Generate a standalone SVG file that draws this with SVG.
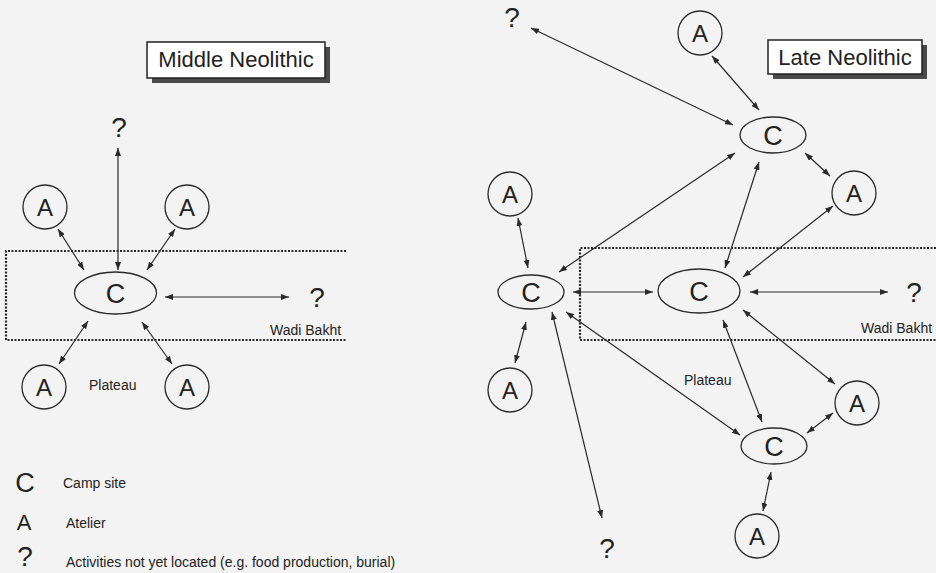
<svg xmlns="http://www.w3.org/2000/svg" width="936" height="573" viewBox="0 0 936 573">
<defs>
<marker id="ah" viewBox="0 0 8 6" refX="8" refY="3" markerWidth="8" markerHeight="6" markerUnits="userSpaceOnUse" orient="auto-start-reverse">
<path d="M0,0 L8,3 L0,6 z" fill="#2a2a2a"/>
</marker>
</defs>
<style>
.bg{fill:#f3f3f3}
.n{fill:none;stroke:#2a2a2a;stroke-width:1.3}
.l{font-family:"Liberation Sans",Arial,sans-serif;fill:#222;text-anchor:middle}
.big{font-size:27px}
.a{font-size:24px}
.q{font-size:28px}
.sm{font-family:"Liberation Sans",Arial,sans-serif;fill:#222;font-size:14px}
.title{font-family:"Liberation Sans",Arial,sans-serif;fill:#222;font-size:22px;text-anchor:middle}
.box{fill:#fff;stroke:#222;stroke-width:1.5}
.sh{fill:#4a4a4a}
.dot{fill:none;stroke:#2a2a2a;stroke-width:2.2;stroke-dasharray:2 1.5}
.c line{stroke:#2a2a2a;stroke-width:1.2;marker-start:url(#ah);marker-end:url(#ah)}
</style>
<rect class="bg" x="0" y="0" width="936" height="573"/>

<!-- regions -->
<g id="regions">
<path class="dot" d="M346,251 H6 V340 H346"/>
<path class="dot" d="M936,248 H580 V340 H936"/>
<text class="sm" x="270" y="335">Wadi Bakht</text>
<text class="sm" x="89" y="390">Plateau</text>
<text class="sm" x="861" y="333">Wadi Bakht</text>
<text class="sm" x="684" y="385">Plateau</text>
</g>

<!-- titles -->
<g id="title-middle">
<rect class="sh" x="152" y="47" width="178" height="36"/>
<rect class="box" x="147" y="42" width="178" height="36"/>
<text class="title" x="236" y="67">Middle Neolithic</text>
</g>
<g id="title-late">
<rect class="sh" x="773" y="45" width="154" height="34"/>
<rect class="box" x="768" y="40" width="154" height="34"/>
<text class="title" x="845" y="65">Late Neolithic</text>
</g>

<!-- connectors -->
<g id="connectors" class="c">
<line x1="58" y1="229" x2="84" y2="270"/>
<line x1="118" y1="148" x2="118" y2="270"/>
<line x1="175" y1="229" x2="147" y2="270"/>
<line x1="165" y1="297" x2="289" y2="297"/>
<line x1="88" y1="321" x2="59" y2="364"/>
<line x1="142" y1="322" x2="172" y2="364"/>

<line x1="531" y1="28" x2="733" y2="125"/>
<line x1="712" y1="56" x2="759" y2="110"/>
<line x1="805" y1="153" x2="830" y2="176"/>
<line x1="735" y1="153" x2="559" y2="272"/>
<line x1="759" y1="162" x2="725" y2="268"/>
<line x1="833" y1="206" x2="743" y2="277"/>
<line x1="518" y1="218" x2="528" y2="268"/>
<line x1="573" y1="292" x2="653" y2="292"/>
<line x1="750" y1="292" x2="888" y2="292"/>
<line x1="526" y1="322" x2="515" y2="363"/>
<line x1="552" y1="312" x2="602" y2="518"/>
<line x1="566" y1="312" x2="740" y2="435"/>
<line x1="723" y1="320" x2="762" y2="422"/>
<line x1="743" y1="310" x2="835" y2="384"/>
<line x1="807" y1="433" x2="833" y2="413"/>
<line x1="771" y1="472" x2="763" y2="511"/>
</g>

<!-- Middle Neolithic nodes -->
<g id="mn-q-top"><text class="l q" x="119" y="137">?</text></g>
<g id="mn-a1"><circle class="n" cx="45" cy="207" r="22"/><text class="l a" x="45" y="216">A</text></g>
<g id="mn-a2"><circle class="n" cx="187" cy="207" r="22"/><text class="l a" x="187" y="216">A</text></g>
<g id="mn-c"><ellipse class="n" cx="115.5" cy="293" rx="41" ry="21"/><text class="l big" x="115.5" y="303">C</text></g>
<g id="mn-q-right"><text class="l q" x="317" y="307">?</text></g>
<g id="mn-a3"><circle class="n" cx="44" cy="387" r="22"/><text class="l a" x="44" y="396">A</text></g>
<g id="mn-a4"><circle class="n" cx="187" cy="387" r="22"/><text class="l a" x="187" y="396">A</text></g>

<!-- Late Neolithic nodes -->
<g id="ln-q-top"><text class="l q" x="512" y="27">?</text></g>
<g id="ln-a-top"><circle class="n" cx="700" cy="33" r="22"/><text class="l a" x="700" y="42">A</text></g>
<g id="ln-c-top"><ellipse class="n" cx="773" cy="135" rx="33" ry="18"/><text class="l big" x="773" y="145">C</text></g>
<g id="ln-a-right1"><circle class="n" cx="854" cy="193" r="22"/><text class="l a" x="854" y="202">A</text></g>
<g id="ln-a-left1"><circle class="n" cx="510" cy="194" r="22"/><text class="l a" x="510" y="203">A</text></g>
<g id="ln-c-left"><ellipse class="n" cx="531" cy="292" rx="33" ry="17"/><text class="l big" x="531" y="302">C</text></g>
<g id="ln-c-mid"><ellipse class="n" cx="699" cy="291" rx="41" ry="22"/><text class="l big" x="699" y="301">C</text></g>
<g id="ln-q-right"><text class="l q" x="914" y="302">?</text></g>
<g id="ln-a-left2"><circle class="n" cx="510" cy="390" r="22"/><text class="l a" x="510" y="399">A</text></g>
<g id="ln-a-right2"><circle class="n" cx="857" cy="403" r="22"/><text class="l a" x="857" y="412">A</text></g>
<g id="ln-c-bottom"><ellipse class="n" cx="774" cy="446" rx="33" ry="18"/><text class="l big" x="774" y="456">C</text></g>
<g id="ln-a-bottom"><circle class="n" cx="757" cy="536" r="22"/><text class="l a" x="757" y="545">A</text></g>
<g id="ln-q-bottom"><text class="l q" x="607" y="558">?</text></g>

<!-- legend -->
<g id="legend">
<text class="l" style="font-size:27px" x="25" y="492">C</text>
<text class="sm" x="63" y="488">Camp site</text>
<text class="l" style="font-size:22px" x="24" y="530">A</text>
<text class="sm" x="66" y="528">Atelier</text>
<text class="l" style="font-size:28px" x="25" y="566">?</text>
<text class="sm" x="66" y="567">Activities not yet located (e.g. food production, burial)</text>
</g>
</svg>
